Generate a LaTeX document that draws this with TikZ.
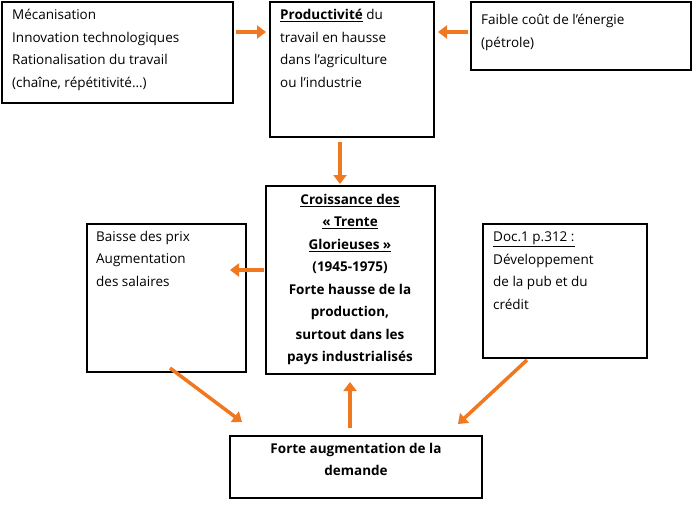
\documentclass[tikz,border=0pt]{standalone}
\usepackage{fontspec}
\setmainfont{Open Sans}
\usetikzlibrary{arrows.meta}
\begin{document}
\begin{tikzpicture}[x=1pt,y=-1pt,
  box/.style={draw,line width=1.3pt},
  txt/.style={anchor=north west,font=\fontsize{13.5}{22.5}\selectfont,align=left,inner sep=0pt},
  ctxt/.style={anchor=north,font=\fontsize{13.5}{22.5}\selectfont\bfseries,align=center,inner sep=0pt},
  arr/.style={draw={rgb,255:red,240;green,120;blue,32},line width=3.5pt,-{Triangle[length=9pt,width=13pt]}}]
\useasboundingbox (0,0) rectangle (693,512);
\fill[white] (0,0) rectangle (693,512);
\draw[box] (2,2) rectangle (233,103);
\node[txt] (a) at (12,9) {Mécanisation\\Innovation technologiques\\Rationalisation du travail\\(chaîne, répétitivité…)};
\draw[box] (270,2) rectangle (434,137);
\node[txt] (b) at (280,9) {\textbf{\underline{Productivité}} du\\travail en hausse\\dans l’agriculture\\ou l’industrie};
\draw[box] (471,2) rectangle (691,70);
\node[txt] (c) at (481,14) {Faible coût de l’énergie\\(pétrole)};
\draw[box] (266,186) rectangle (435,374);
\node[ctxt] (d) at (350,194) {\underline{Croissance des}\\\underline{« Trente}\\\underline{Glorieuses »}\\(1945-1975)\\Forte hausse de la\\production,\\surtout dans les\\pays industrialisés};
\draw[box] (87,224) rectangle (246,372);
\node[txt] (e) at (96,231) {Baisse des prix\\Augmentation\\des salaires};
\draw[box] (483,224) rectangle (647,358);
\node[txt] (f) at (493,232) {\underline{Doc.1 p.312 :}\\Développement\\de la pub et du\\crédit};
\draw[box] (230,436) rectangle (482,498);
\node[ctxt] (g) at (356,443) {Forte augmentation de la\\demande};
\coordinate (a1) at (236,32); \coordinate (b1) at (266,32);
\coordinate (c1) at (468,32); \coordinate (b2) at (438,32);
\coordinate (b3) at (340,142); \coordinate (d1) at (340,184);
\coordinate (d2) at (264,270); \coordinate (e1) at (230,270);
\coordinate (g1) at (350,428); \coordinate (d3) at (350,382);
\coordinate (e2) at (170,368); \coordinate (g2) at (242,422);
\coordinate (f1) at (527,360); \coordinate (g3) at (458,424);
\draw[arr] (a1) -- (b1);
\draw[arr] (c1) -- (b2);
\draw[arr] (b3) -- (d1);
\draw[arr] (d2) -- (e1);
\draw[arr] (g1) -- (d3);
\draw[arr] (e2) -- (g2);
\draw[arr] (f1) -- (g3);
\end{tikzpicture}
\end{document}
